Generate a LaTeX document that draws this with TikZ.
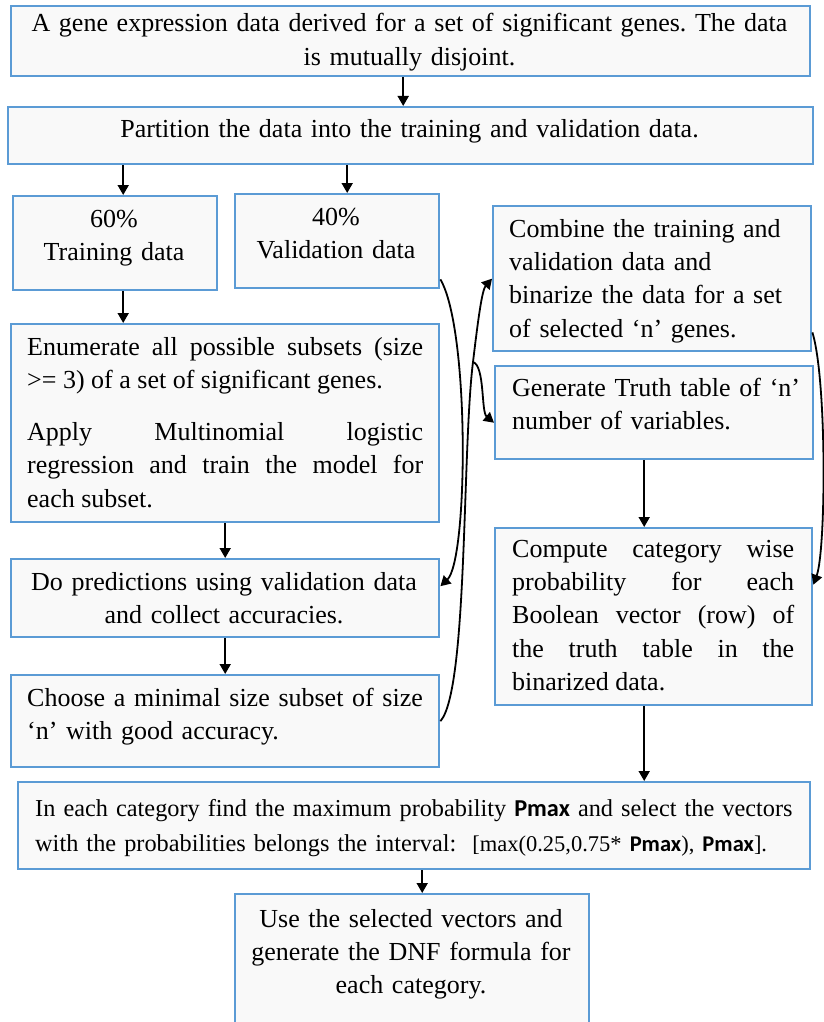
\documentclass[tikz,border=0pt]{standalone}
\usepackage{fontspec}
\setmainfont{Liberation Serif}
\newfontfamily\pfont{Carlito}
\usetikzlibrary{arrows.meta}
\definecolor{boxblue}{RGB}{91,155,213}
\definecolor{boxfill}{RGB}{249,249,249}
\frenchspacing
\hyphenpenalty=10000
\exhyphenpenalty=10000
\begin{document}
\begin{tikzpicture}[x=1pt,y=-1pt,
  box/.style={draw=boxblue, line width=2.4pt, fill=boxfill, inner sep=0pt, anchor=north west},
  txt/.style={inner sep=0pt, font=\fontsize{26}{33.4}\selectfont},
  smalltxt/.style={inner sep=0pt, font=\fontsize{24.3}{35}\selectfont},
  arr/.style={-{Triangle[length=10pt,width=11pt]}, line width=1.8pt, draw=black}]
\useasboundingbox (0,0) rectangle (824,1022);
\fill[white] (0,0) rectangle (824,1022);

% boxes
\node[box, minimum width=799pt, minimum height=70pt]  (b1)  at (10,5) {};
\node[box, minimum width=805pt, minimum height=57pt]  (b2)  at (7,106) {};
\node[box, minimum width=204pt, minimum height=94pt]  (b3)  at (12,195) {};
\node[box, minimum width=204pt, minimum height=94pt]  (b4)  at (234,193) {};
\node[box, minimum width=428pt, minimum height=198pt] (b5)  at (10,323) {};
\node[box, minimum width=428pt, minimum height=78pt]  (b6)  at (10,558) {};
\node[box, minimum width=428pt, minimum height=92pt]  (b7)  at (10,674) {};
\node[box, minimum width=318pt, minimum height=145pt] (b8)  at (492,205) {};
\node[box, minimum width=318pt, minimum height=93pt]  (b9)  at (494,365) {};
\node[box, minimum width=317pt, minimum height=177pt] (b10) at (494,527) {};
\node[box, minimum width=792pt, minimum height=87pt]  (b11) at (17,781) {};
\node[box, minimum width=354pt, minimum height=140pt] (b12) at (234,893) {};

% texts
\begin{scope}
\clip (b1.north west) rectangle ([yshift=7pt]b1.south east);
\node[txt, text width=790pt, align=center, anchor=base] (t1) at (409.5,32)
  {A gene expression data derived for a set of significant genes. The data\\is mutually disjoint.};
\end{scope}
\node[txt, text width=800pt, align=center, anchor=base] (t2) at (409.5,138)
  {Partition the data into the training and validation data.};
\node[txt, text width=200pt, align=center, anchor=base] (t3) at (114,227)
  {60\%\\Training data};
\node[txt, text width=200pt, align=center, anchor=base] (t4) at (336,225)
  {40\%\\Validation data};
\node[txt, text width=396pt, align=justify, anchor=base west] (t5) at (27,355)
  {Enumerate all possible subsets (size\linebreak >= 3) of a set of significant genes.\par\vspace{18.6pt}
   Apply Multinomial logistic\linebreak regression and train the model for\linebreak each subset.};
\node[txt, text width=420pt, align=center, anchor=base] (t6) at (224,590)
  {Do predictions using validation data\\and collect accuracies.};
\node[txt, text width=408pt, align=left, anchor=base west] (t7) at (27,706)
  {Choose a minimal size subset of size\\‘n’ with good accuracy.};
\node[txt, text width=300pt, align=left, anchor=base west] (t8) at (509,237)
  {Combine the training and\\validation data and\\binarize the data for a set\\of selected ‘n’ genes.};
\node[txt, text width=298pt, align=left, anchor=base west] (t9) at (512,396)
  {Generate Truth table of ‘n’\\number of variables.};
\node[txt, text width=282pt, align=justify, anchor=base west] (t10) at (512,557)
  {Compute category wise\linebreak probability for each\linebreak Boolean vector (row) of\linebreak the truth table in the\linebreak binarized data.};
\node[smalltxt, text width=785pt, align=left, anchor=base west] (t11) at (35,816)
  {In each category find the maximum probability {\pfont\bfseries Pmax} and select the vectors\\
   with the probabilities belongs the interval:\hspace{16pt}{\fontsize{22.5}{30}\selectfont [max(0.25,0.75* {\pfont\bfseries Pmax}), {\pfont\bfseries Pmax}].}};
\node[txt, text width=345pt, align=center, anchor=base] (t12) at (411,927)
  {Use the selected vectors and\\generate the DNF formula for\\each category.};

% straight connectors
\draw[arr] ([xshift=-7.5pt]b1.south) -- ([xshift=-7.5pt]b1.south |- b2.north);
\draw[arr] ([xshift=-287.5pt]b2.south) -- ([xshift=-287.5pt]b2.south |- b3.north);
\draw[arr] ([xshift=-63.5pt]b2.south) -- ([xshift=-63.5pt]b2.south |- b4.north);
\draw[arr] ([xshift=8pt]b3.south) -- ([xshift=8pt]b3.south |- b5.north);
\draw[arr] (b5.south) -- (b5.south |- b6.north);
\draw[arr] (b6.south) -- (b6.south |- b7.north);
\draw[arr] ([xshift=-9.5pt]b10.north |- b9.south) -- ([xshift=-9.5pt]b10.north);
\draw[arr] ([xshift=-9.5pt]b10.south) -- ([xshift=-9.5pt]b10.south |- b11.north);
\draw[arr] ([xshift=8pt]b11.south) -- ([xshift=8pt]b11.south |- b12.north);

% curved connectors
\draw[arr] ([yshift=10pt]b4.south east) .. controls (470,330) and (468,560) .. ([yshift=12pt]b6.east);
\draw[arr] (b7.east) .. controls (468,690) and (462,450) .. (473,362) coordinate (br)
   .. controls (478,320) and (482,290) .. (b8.west);
\draw[arr] (br) .. controls (485,366) and (481,412) .. ([yshift=-10pt]b9.west);
\draw[arr] ([yshift=20pt]b8.south east) .. controls (827,380) and (826,550) .. ([yshift=32pt]b10.east);
\end{tikzpicture}
\end{document}
